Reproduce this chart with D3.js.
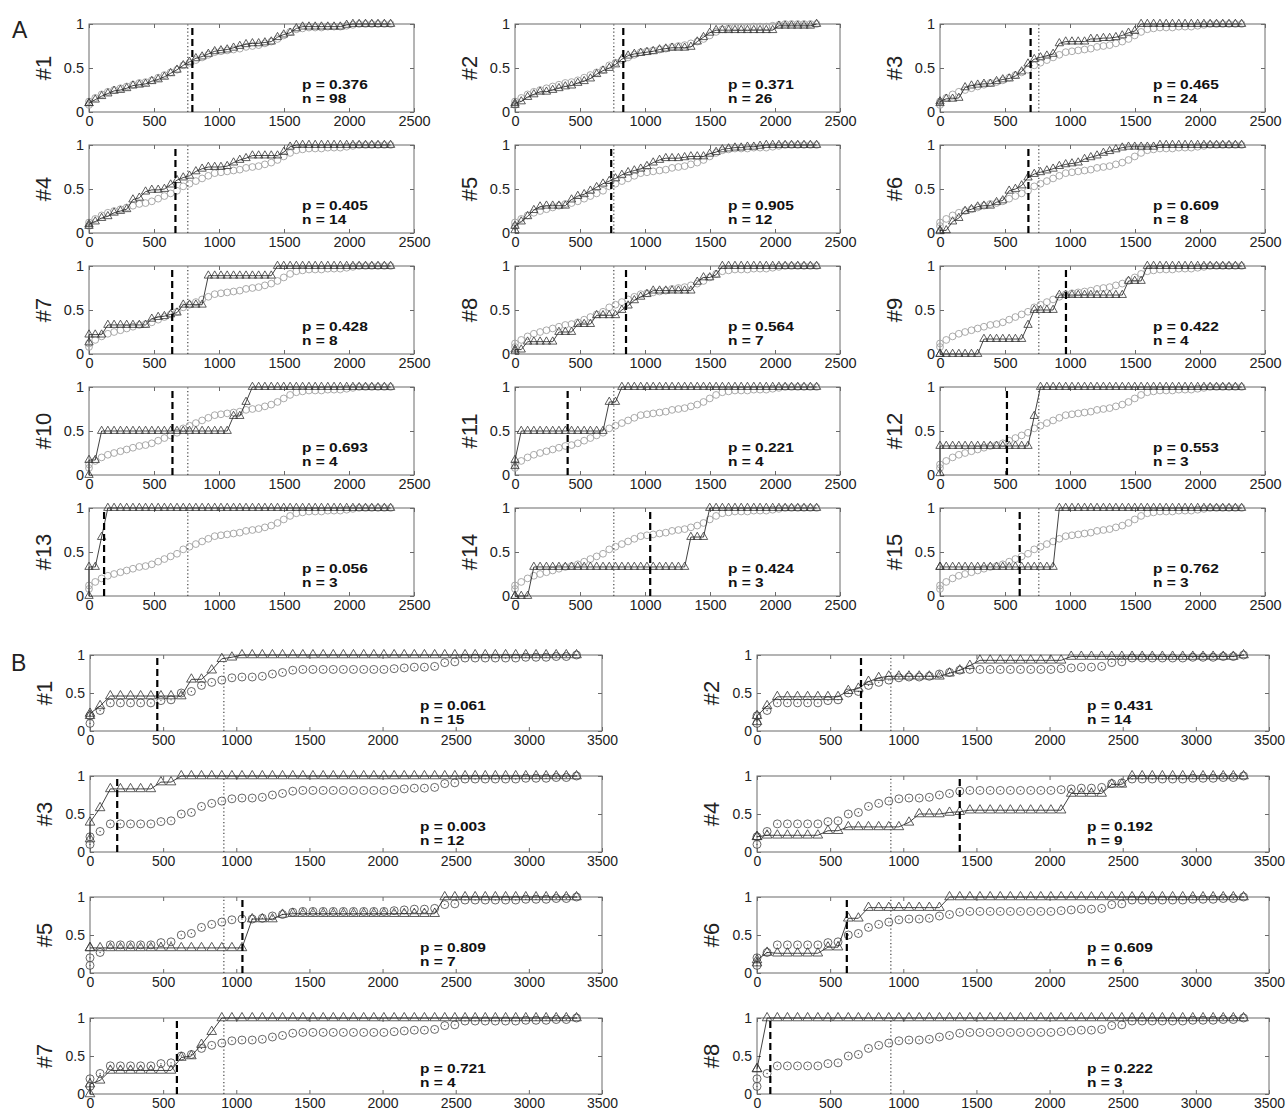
<!DOCTYPE html>
<html>
<head>
<script src="https://cdn.jsdelivr.net/npm/d3@7"></script>
<style>
    body{ margin:0; background:#fff; font-family:"Liberation Sans", Arial, sans-serif; }
</style>
</head>
<body>
<div id="chart"></div>
<script>
// sample positions (days); the first point is doubled at 0
var gridA = [0,0,48,97,145,193,242,290,338,387,435,483,532,580,628,677,725,773,822,870,918,967,1015,1063,1112,1160,1208,1257,1305,1353,1402,1450,1498,1547,1595,1643,1692,1740,1788,1837,1885,1933,1982,2030,2078,2127,2175,2223,2272,2320]
var gridB = [0,0,69,139,208,277,346,416,485,554,624,693,762,832,901,970,1039,1109,1178,1247,1316,1386,1455,1524,1594,1663,1732,1801,1871,1940,2009,2079,2148,2217,2286,2356,2425,2494,2564,2633,2702,2771,2841,2910,2979,3049,3118,3187,3256,3326]
var ticksA = [0,500,1000,1500,2000,2500]
var ticksB = [0,500,1000,1500,2000,2500,3000,3500]

// reference curve (circles), same in every panel of a section
var baseA = [0.08,0.12,
    0.16,0.2,0.23,0.25,0.27,0.29,0.31,0.33,0.34,0.36,
    0.39,0.42,0.45,0.48,0.53,0.56,0.59,0.62,0.65,0.68,
    0.69,0.7,0.71,0.72,0.74,0.75,0.76,0.78,0.8,0.83,
    0.87,0.91,0.94,0.95,0.96,0.96,0.96,0.97,0.97,0.97,
    0.98,0.99,1,1,1,1,1,1]
var baseB = [0.1,0.2,
    0.27,0.37,0.37,0.37,0.37,0.37,0.4,0.41,0.5,0.52,
    0.6,0.64,0.67,0.7,0.71,0.71,0.72,0.75,0.77,0.8,
    0.81,0.81,0.81,0.81,0.81,0.81,0.81,0.81,0.81,0.82,
    0.83,0.84,0.84,0.85,0.9,0.91,0.96,0.96,0.96,0.96,
    0.96,0.96,0.97,0.97,0.97,0.98,0.98,1]

// subgroup curves (triangles)
var triA = [
    [0.1,0.1, 0.14,0.18,0.21,0.24,0.25,0.27,0.3,0.31,0.32,0.35, 0.37,0.4,0.44,0.48,0.53,0.57,0.61,0.63,0.66,0.69, 0.7,0.71,0.73,0.75,0.77,0.78,0.78,0.79,0.8,0.85, 0.88,0.9,0.95,0.97,0.97,0.97,0.97,0.97,0.97,0.97, 0.99,1,1,1,1,1,1,1],
    [0.08,0.1, 0.12,0.17,0.2,0.23,0.23,0.25,0.27,0.29,0.3,0.33, 0.35,0.38,0.43,0.47,0.5,0.54,0.6,0.64,0.66,0.67, 0.68,0.69,0.71,0.72,0.73,0.73,0.73,0.74,0.8,0.85, 0.9,0.93,0.93,0.93,0.93,0.93,0.93,0.93,0.93,0.93, 0.93,0.98,0.98,0.98,0.98,0.98,0.98,1],
    [0.1,0.12, 0.15,0.15,0.16,0.28,0.3,0.31,0.32,0.32,0.35,0.37, 0.38,0.41,0.46,0.55,0.6,0.62,0.64,0.66,0.78,0.8, 0.8,0.8,0.8,0.83,0.83,0.84,0.84,0.85,0.87,0.9, 0.92,1,1,1,1,1,1,1,1,1, 1,1,1,1,1,1,1,1],
    [0.08,0.1, 0.13,0.17,0.19,0.23,0.25,0.27,0.38,0.4,0.47,0.49, 0.49,0.5,0.55,0.6,0.63,0.65,0.7,0.73,0.75,0.75, 0.75,0.76,0.8,0.83,0.85,0.88,0.88,0.88,0.88,0.88, 0.92,0.98,1,1,1,1,1,1,1,1, 1,1,1,1,1,1,1,1],
    [0.03,0.08, 0.13,0.19,0.26,0.3,0.31,0.31,0.31,0.31,0.38,0.42, 0.44,0.48,0.52,0.56,0.59,0.62,0.66,0.69,0.71,0.73, 0.76,0.8,0.83,0.85,0.85,0.85,0.86,0.87,0.87,0.87, 0.9,0.92,0.95,0.96,0.97,0.97,0.98,0.98,0.99,1, 1,1,1,1,1,1,1,1],
    [0.02,0.03, 0.03,0.13,0.17,0.25,0.27,0.3,0.31,0.31,0.35,0.37, 0.48,0.5,0.54,0.63,0.67,0.69,0.71,0.73,0.76,0.78, 0.79,0.8,0.84,0.86,0.88,0.91,0.93,0.95,0.97,0.98, 0.98,0.98,0.98,0.98,1,1,1,1,1,1, 1,1,1,1,1,1,1,1],
    [0.13,0.22, 0.22,0.22,0.33,0.33,0.33,0.33,0.33,0.33,0.33,0.4, 0.42,0.43,0.45,0.47,0.56,0.56,0.56,0.56,0.89,0.89, 0.89,0.89,0.89,0.89,0.89,0.89,0.89,0.89,0.89,1, 1,1,1,1,1,1,1,1,1,1, 1,1,1,1,1,1,1,1],
    [0.03,0.05, 0.05,0.14,0.14,0.14,0.14,0.14,0.25,0.25,0.25,0.34, 0.34,0.34,0.44,0.44,0.44,0.44,0.5,0.55,0.61,0.65, 0.68,0.72,0.72,0.72,0.72,0.72,0.72,0.72,0.82,0.87, 0.87,0.9,1,1,1,1,1,1,1,1, 1,1,1,1,1,1,1,1],
    [0,0, 0,0,0,0,0,0,0.17,0.17,0.17,0.17, 0.17,0.17,0.17,0.33,0.5,0.5,0.5,0.5,0.67,0.67, 0.67,0.67,0.67,0.67,0.67,0.67,0.67,0.67,0.67,0.83, 0.83,0.83,1,1,1,1,1,1,1,1, 1,1,1,1,1,1,1,1],
    [0,0.17, 0.17,0.5,0.5,0.5,0.5,0.5,0.5,0.5,0.5,0.5, 0.5,0.5,0.5,0.5,0.5,0.5,0.5,0.5,0.5,0.5, 0.5,0.5,0.67,0.67,0.83,1,1,1,1,1, 1,1,1,1,1,1,1,1,1,1, 1,1,1,1,1,1,1,1],
    [0.1,0.17, 0.5,0.5,0.5,0.5,0.5,0.5,0.5,0.5,0.5,0.5, 0.5,0.5,0.5,0.5,0.83,0.83,1,1,1,1, 1,1,1,1,1,1,1,1,1,1, 1,1,1,1,1,1,1,1,1,1, 1,1,1,1,1,1,1,1],
    [0.02,0.33, 0.33,0.33,0.33,0.33,0.33,0.33,0.33,0.33,0.33,0.33, 0.33,0.33,0.33,0.33,0.67,1,1,1,1,1, 1,1,1,1,1,1,1,1,1,1, 1,1,1,1,1,1,1,1,1,1, 1,1,1,1,1,1,1,1],
    [0,0.33, 0.33,0.67,1,1,1,1,1,1,1,1, 1,1,1,1,1,1,1,1,1,1, 1,1,1,1,1,1,1,1,1,1, 1,1,1,1,1,1,1,1,1,1, 1,1,1,1,1,1,1,1],
    [0,0, 0,0,0.33,0.33,0.33,0.33,0.33,0.33,0.33,0.33, 0.33,0.33,0.33,0.33,0.33,0.33,0.33,0.33,0.33,0.33, 0.33,0.33,0.33,0.33,0.33,0.33,0.33,0.67,0.67,0.67, 1,1,1,1,1,1,1,1,1,1, 1,1,1,1,1,1,1,1],
    [0.33,0.33, 0.33,0.33,0.33,0.33,0.33,0.33,0.33,0.33,0.33,0.33, 0.33,0.33,0.33,0.33,0.33,0.33,0.33,0.33,1,1, 1,1,1,1,1,1,1,1,1,1, 1,1,1,1,1,1,1,1,1,1, 1,1,1,1,1,1,1,1]
]
var triB = [
    [0.2,0.23, 0.33,0.46,0.46,0.46,0.46,0.46,0.46,0.46,0.46,0.68, 0.68,0.8,0.95,0.97,1,1,1,1,1,1, 1,1,1,1,1,1,1,1,1,1, 1,1,1,1,1,1,1,1,1,1, 1,1,1,1,1,1,1,1],
    [0.12,0.2, 0.33,0.45,0.45,0.45,0.45,0.45,0.45,0.45,0.53,0.56, 0.65,0.7,0.72,0.72,0.72,0.72,0.72,0.72,0.76,0.8, 0.86,0.93,0.93,0.93,0.93,0.93,0.93,0.93,0.93,0.93, 0.98,0.98,0.98,0.98,0.98,0.98,0.98,0.98,0.98,0.98, 0.98,0.98,0.98,0.98,0.98,0.98,0.98,1],
    [0.17,0.39, 0.58,0.83,0.83,0.83,0.83,0.83,0.92,0.92,1,1, 1,1,1,1,1,1,1,1,1,1, 1,1,1,1,1,1,1,1,1,1, 1,1,1,1,1,1,1,1,1,1, 1,1,1,1,1,1,1,1],
    [0.2,0.2, 0.22,0.22,0.22,0.22,0.22,0.22,0.28,0.28,0.33,0.33, 0.33,0.33,0.33,0.33,0.39,0.5,0.5,0.5,0.52,0.53, 0.55,0.55,0.55,0.55,0.55,0.55,0.55,0.55,0.55,0.55, 0.77,0.77,0.77,0.77,0.89,0.89,1,1,1,1, 1,1,1,1,1,1,1,1],
    [0.33,0.33, 0.33,0.33,0.33,0.33,0.33,0.33,0.33,0.33,0.33,0.33, 0.33,0.33,0.33,0.33,0.33,0.71,0.71,0.71,0.77,0.78, 0.78,0.78,0.78,0.78,0.78,0.78,0.78,0.78,0.78,0.78, 0.78,0.78,0.78,0.78,1,1,1,1,1,1, 1,1,1,1,1,1,1,1],
    [0.13,0.17, 0.27,0.26,0.26,0.26,0.26,0.26,0.34,0.34,0.72,0.72, 0.86,0.86,0.86,0.86,0.86,0.86,0.86,0.86,1,1, 1,1,1,1,1,1,1,1,1,1, 1,1,1,1,1,1,1,1,1,1, 1,1,1,1,1,1,1,1],
    [0,0.13, 0.18,0.31,0.31,0.31,0.31,0.31,0.31,0.31,0.48,0.5, 0.65,0.82,1,1,1,1,1,1,1,1, 1,1,1,1,1,1,1,1,1,1, 1,1,1,1,1,1,1,1,1,1, 1,1,1,1,1,1,1,1],
    [0.33,0.33, 1,1,1,1,1,1,1,1,1,1, 1,1,1,1,1,1,1,1,1,1, 1,1,1,1,1,1,1,1,1,1, 1,1,1,1,1,1,1,1,1,1, 1,1,1,1,1,1,1,1]
]

// medians: dashed = subgroup, dotted = reference
var dashedA = [795,833,697,665,740,680,640,854,969,642,405,515,116,1040,613]
var dashedB = [460,711,186,1386,1042,614,594,91]
var dottedA = 760
var dottedB = 915

var pA = [0.376,0.371,0.465,0.405,0.905,0.609,0.428,0.564,0.422,0.693,0.221,0.553,0.056,0.424,0.762]
var nA = [98,26,24,14,12,8,8,7,4,4,4,3,3,3,3]
var pB = [0.061,0.431,0.003,0.192,0.809,0.609,0.721,0.222]
var nB = [15,14,12,9,7,6,4,3]

var font = "'Liberation Sans', Arial, Helvetica, sans-serif"
var svg = d3.select("#chart").append("svg")
    .attr("width",1288)
    .attr("height",1113)

function drawPanel(o){
    var g = svg.append("g")
    var x = d3.scaleLinear().domain([0,o.xmax]).range([o.left,o.left+o.w])
    var y = d3.scaleLinear().domain([0,1]).range([o.top+o.h,o.top])

    g.append("rect")
        .attr("x",o.left).attr("y",o.top)
        .attr("width",o.w).attr("height",o.h)
        .attr("fill","none").attr("stroke","#6a6a6a").attr("stroke-width",1)

    var fmt = function(d){return String(d)}
    var axes = [
        [d3.axisBottom(x).tickValues(o.ticks).tickFormat(fmt).tickPadding(4),"translate(0,"+(o.top+o.h)+")"],
        [d3.axisTop(x).tickValues(o.ticks).tickFormat(""),"translate(0,"+o.top+")"],
        [d3.axisLeft(y).tickValues([0,0.5,1]).tickFormat(fmt).tickPadding(5),"translate("+o.left+",0)"],
        [d3.axisRight(y).tickValues([0,0.5,1]).tickFormat(""),"translate("+(o.left+o.w)+",0)"]
    ]
    axes.forEach(function(a){
        var ag = g.append("g").attr("transform",a[1]).call(a[0].tickSizeInner(-4).tickSizeOuter(0))
        ag.select(".domain").remove()
        ag.selectAll("line").attr("stroke","#6a6a6a")
        ag.selectAll("text").attr("fill","#222").style("font-size",o.tickFont+"px").style("font-family",font)
    })

    // reference circles
    g.selectAll(".base").data(o.base).enter()
        .append("circle")
        .attr("cx",function(d,i){return x(o.grid[i])})
        .attr("cy",function(d){return y(d)})
        .attr("r",o.r)
        .attr("fill","none")
        .attr("stroke",o.baseColor)
        .attr("stroke-width",0.9)
    if(o.dot){
        g.selectAll(".bdot").data(o.base).enter()
            .append("circle")
            .attr("cx",function(d,i){return x(o.grid[i])})
            .attr("cy",function(d){return y(d)})
            .attr("r",0.7)
            .attr("fill",o.baseColor)
    }

    // subgroup line + triangles
    var line = d3.line()
        .x(function(d,i){return x(o.grid[i])})
        .y(function(d){return y(d)})
    g.append("path").datum(o.tri)
        .attr("d",line)
        .attr("fill","none")
        .attr("stroke","#111")
        .attr("stroke-width",0.8)
    g.selectAll(".tri").data(o.tri).enter()
        .append("path")
        .attr("d",d3.symbol().type(d3.symbolTriangle).size(o.triSize))
        .attr("transform",function(d,i){return "translate("+x(o.grid[i])+","+y(d)+")"})
        .attr("fill","none")
        .attr("stroke","#333")
        .attr("stroke-width",0.8)

    // median lines
    g.append("line")
        .attr("x1",x(o.dotted)).attr("x2",x(o.dotted))
        .attr("y1",y(0)).attr("y2",y(1))
        .attr("stroke","#444").attr("stroke-width",1.2)
        .attr("stroke-dasharray","1.2,2.4")
    g.append("line")
        .attr("x1",x(o.dashed)).attr("x2",x(o.dashed))
        .attr("y1",y(0)).attr("y2",y(1))
        .attr("stroke","#000").attr("stroke-width",2.2)
        .attr("stroke-dasharray","7,4")

    // p and n, slightly squeezed like the original
    var sy = 0.78
    ;[["p = "+d3.format(".3f")(o.p), o.pDy], ["n = "+o.n, o.nDy]].forEach(function(s){
        g.append("text")
            .attr("transform","translate("+(o.left+o.textDx)+","+(o.top+s[1])+") scale(1,"+sy+")")
            .style("font-family",font).style("font-weight","bold").style("font-size","15.5px")
            .attr("fill","#111")
            .text(s[0])
    })

    // row label
    g.append("text")
        .attr("transform","translate("+(o.left-46)+","+(o.top+o.h/2)+") rotate(-90)")
        .attr("text-anchor","middle")
        .attr("dy","0.36em")
        .style("font-family",font)
        .style("font-size","22px")
        .attr("fill","#222")
        .text(o.label)
}

var colsA = [89,515,940], rowsA = [24,145,266,387,508]
triA.forEach(function(tri,i){
    drawPanel({left:colsA[i%3], top:rowsA[Math.floor(i/3)], w:325, h:88,
        xmax:2500, ticks:ticksA, grid:gridA, base:baseA, tri:tri,
        dashed:dashedA[i], dotted:dottedA, p:pA[i], n:nA[i], label:"#"+(i+1),
        baseColor:"#a0a0a0", r:3.4, dot:false, triSize:30, tickFont:14.5,
        textDx:213, pDy:65, nDy:79})
})

var colsB = [90,757], rowsB = [655,776,897,1018]
triB.forEach(function(tri,i){
    drawPanel({left:colsB[i%2], top:rowsB[Math.floor(i/2)], w:512, h:76,
        xmax:3500, ticks:ticksB, grid:gridB, base:baseB, tri:tri,
        dashed:dashedB[i], dotted:dottedB, p:pB[i], n:nB[i], label:"#"+(i+1),
        baseColor:"#555", r:4, dot:true, triSize:40, tickFont:14,
        textDx:330, pDy:55, nDy:69})
})

svg.append("text").attr("x",12).attr("y",38).style("font-family",font).style("font-size","23px").attr("fill","#222").text("A")
svg.append("text").attr("x",11).attr("y",671).style("font-family",font).style("font-size","23px").attr("fill","#222").text("B")
</script>
</body>
</html>
